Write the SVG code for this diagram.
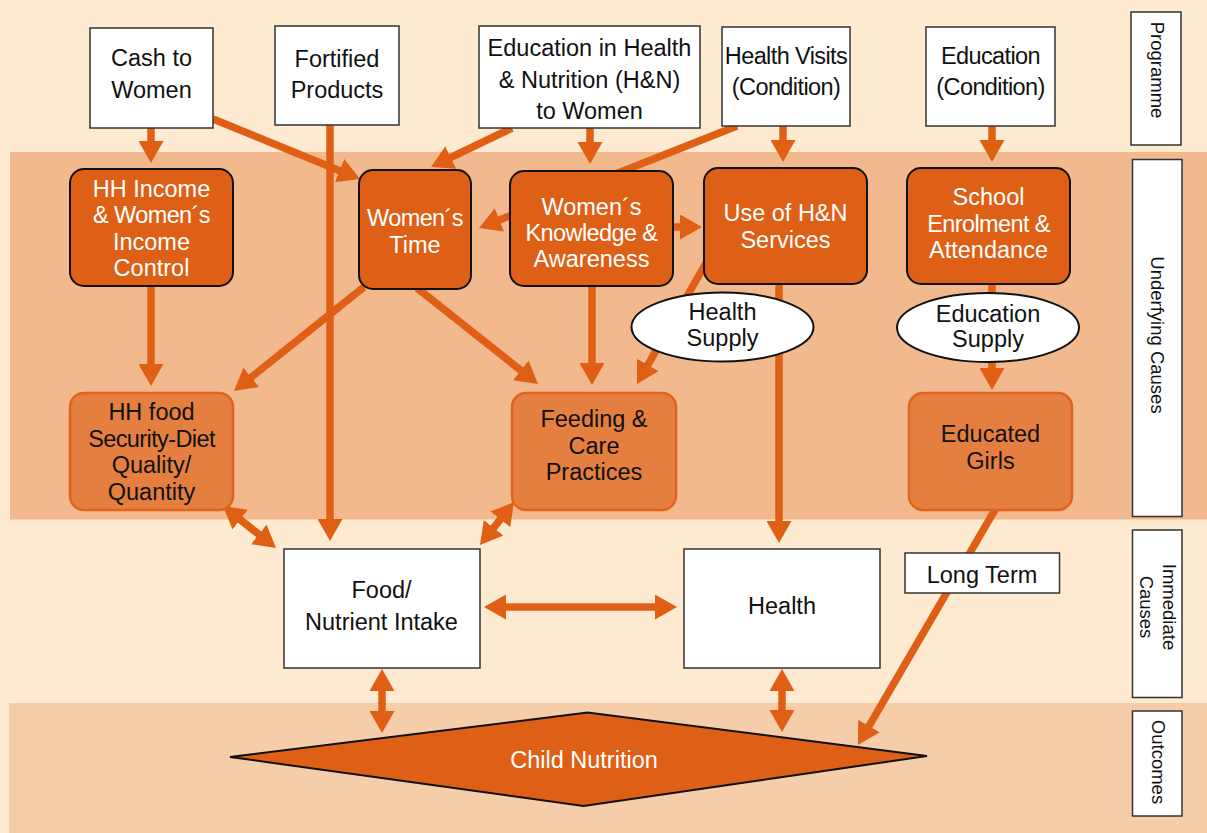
<svg xmlns="http://www.w3.org/2000/svg" width="1207" height="833" viewBox="0 0 1207 833">
<defs>
<marker id="ah" markerUnits="userSpaceOnUse" markerWidth="22" markerHeight="25" refX="12" refY="12.5" orient="auto-start-reverse" viewBox="0 0 22 25"><path d="M0,0 L22,12.5 L0,25 z" fill="#DF6015"/></marker>
<style>
text{font-family:"Liberation Sans",Arial,sans-serif;text-anchor:middle}
.t{font-size:23.5px;fill:#111}
.w{font-size:23.5px;fill:#fff}
.n{letter-spacing:-0.6px}
.s{font-size:18.5px;fill:#111}
.box{fill:#fff;stroke:#333;stroke-width:1.5}
.dk{fill:#DE5F16;stroke:#111;stroke-width:2}
.lt{fill:#E57F40;stroke:#E0651C;stroke-width:2.5}
.el{fill:#fff;stroke:#111;stroke-width:2}
.lab{fill:#fff;stroke:#333;stroke-width:1.5}
.c line{stroke:#DF6015;stroke-width:7.5;fill:none}
.e{marker-end:url(#ah)}
.b{marker-start:url(#ah);marker-end:url(#ah)}
</style>
</defs>
<rect x="0" y="0" width="1207" height="833" fill="#FEEAD1"/>
<rect x="10" y="152" width="1197" height="367.5" fill="#F2B88E"/>
<rect x="9" y="703" width="1198" height="130" fill="#F6CDA9"/>

<g id="labels">
<g id="lab-programme"><rect class="lab" x="1131" y="12" width="50" height="133"/><text class="s" transform="translate(1157,70) rotate(90)" y="6.5">Programme</text></g>
<g id="lab-underlying"><rect class="lab" x="1132.5" y="159.5" width="49.5" height="357"/><text class="s" transform="translate(1157,335) rotate(90)" y="6.5">Underfying Causes</text></g>
<g id="lab-immediate"><rect class="lab" x="1132.5" y="530" width="49.5" height="167.5"/><text class="s" transform="translate(1157.5,607) rotate(90)"><tspan x="0" y="-5">Immediate</tspan><tspan x="0" y="18">Causes</tspan></text></g>
<g id="lab-outcomes"><rect class="lab" x="1132.5" y="711" width="49.5" height="105"/><text class="s" transform="translate(1158,762) rotate(90)" y="6.5">Outcomes</text></g>
</g>

<g id="connectors" class="c">
<line class="e" x1="151" y1="128" x2="151" y2="153"/>
<line class="e" x1="213" y1="119" x2="350.7" y2="175.2"/>
<line class="e" x1="330" y1="125" x2="330" y2="531"/>
<line class="e" x1="512" y1="128" x2="440" y2="162.7"/>
<line class="e" x1="590" y1="128" x2="590" y2="154"/>
<line class="e" x1="737" y1="126" x2="488.3" y2="224.3"/>
<line class="e" x1="673" y1="227" x2="692" y2="227"/>
<line class="e" x1="783" y1="126" x2="783" y2="152"/>
<line class="e" x1="992" y1="126" x2="992" y2="152"/>
<line class="e" x1="151" y1="286" x2="151" y2="376"/>
<line class="e" x1="364" y1="287" x2="241.8" y2="384.8"/>
<line class="e" x1="417" y1="288" x2="530.2" y2="377.8"/>
<line class="e" x1="592" y1="286" x2="592" y2="375"/>
<line class="e" x1="710" y1="256" x2="641.9" y2="375.3"/>
<line class="e" x1="779" y1="284" x2="779" y2="533"/>
<line class="e" x1="992" y1="284" x2="992" y2="380"/>
<line class="e" x1="999.5" y1="502" x2="863" y2="736.4"/>
<line class="b" x1="230.8" y1="512.2" x2="268.2" y2="541.8"/>
<line class="b" x1="507.8" y1="509.9" x2="486.2" y2="537.2"/>
<line class="b" x1="494" y1="607" x2="667" y2="607"/>
<line class="b" x1="382" y1="679" x2="382" y2="723"/>
<line class="b" x1="782" y1="679" x2="782" y2="722"/>
</g>

<g id="n-cash"><rect class="box" x="90" y="28" width="123" height="100"/><text class="t" x="151.5" y="66">Cash to</text><text class="t" x="151.5" y="98">Women</text></g>
<g id="n-fortified"><rect class="box" x="275" y="26" width="124" height="99"/><text class="t" x="337" y="66.5">Fortified</text><text class="t" x="337" y="98">Products</text></g>
<g id="n-education-hn"><rect class="box" x="479" y="26" width="221" height="102"/><text class="t" x="589.5" y="56">Education in Health</text><text class="t" x="589.5" y="87.5">&amp; Nutrition (H&amp;N)</text><text class="t" x="589.5" y="119">to Women</text></g>
<g id="n-health-visits"><rect class="box" x="722" y="27" width="128" height="99"/><text class="t n" x="786" y="64">Health Visits</text><text class="t n" x="786" y="95">(Condition)</text></g>
<g id="n-education-cond"><rect class="box" x="926" y="27" width="129" height="99"/><text class="t n" x="990.5" y="64">Education</text><text class="t n" x="990.5" y="95">(Condition)</text></g>

<g id="n-hh-income"><rect class="dk" x="70" y="169" width="163" height="117" rx="14"/><text class="w" x="151.5" y="196.5">HH Income</text><text class="w n" x="151.5" y="223">&amp; Women´s</text><text class="w" x="151.5" y="249.5">Income</text><text class="w" x="151.5" y="276">Control</text></g>
<g id="n-womens-time"><rect class="dk" x="359" y="170" width="112" height="119" rx="14"/><text class="w n" x="415" y="226">Women´s</text><text class="w" x="415" y="252.5">Time</text></g>
<g id="n-knowledge"><rect class="dk" x="510" y="171" width="163" height="115" rx="14"/><text class="w" x="591.5" y="215">Women´s</text><text class="w n" x="591.5" y="241">Knowledge &amp;</text><text class="w" x="591.5" y="267">Awareness</text></g>
<g id="n-use-hn"><rect class="dk" x="704" y="168" width="163" height="116" rx="14"/><text class="w" x="785.5" y="221">Use of H&amp;N</text><text class="w" x="785.5" y="247.5">Services</text></g>
<g id="n-school"><rect class="dk" x="907" y="168" width="163" height="116" rx="14"/><text class="w" x="988.5" y="205">School</text><text class="w n" x="988.5" y="231.5">Enrolment &amp;</text><text class="w" x="988.5" y="258">Attendance</text></g>

<g id="n-health-supply"><ellipse class="el" cx="722.5" cy="327" rx="91" ry="34.5"/><text class="t" x="722.5" y="319.5">Health</text><text class="t" x="722.5" y="346">Supply</text></g>
<g id="n-education-supply"><ellipse class="el" cx="988" cy="327.5" rx="91" ry="34.5"/><text class="t" x="988" y="321.5">Education</text><text class="t" x="988" y="347">Supply</text></g>

<g id="n-hh-food"><rect class="lt" x="70" y="393" width="163" height="117" rx="14"/><text class="t" x="151.5" y="419.5">HH food</text><text class="t n" x="151.5" y="446.5">Security-Diet</text><text class="t" x="151.5" y="472.5">Quality/</text><text class="t" x="151.5" y="499.5">Quantity</text></g>
<g id="n-feeding"><rect class="lt" x="512" y="393" width="164" height="117" rx="14"/><text class="t" x="594" y="427">Feeding &amp;</text><text class="t" x="594" y="454">Care</text><text class="t" x="594" y="480">Practices</text></g>
<g id="n-educated-girls"><rect class="lt" x="909" y="393" width="163" height="117" rx="14"/><text class="t" x="990.5" y="442">Educated</text><text class="t" x="990.5" y="468.5">Girls</text></g>

<g id="n-food"><rect class="box" x="284" y="549" width="196" height="119"/><text class="t" x="381.5" y="597.5">Food/</text><text class="t" x="381.5" y="629.5">Nutrient Intake</text></g>
<g id="n-health"><rect class="box" x="684" y="549" width="196" height="119"/><text class="t" x="782" y="613.5">Health</text></g>
<g id="n-long-term"><rect class="box" x="905" y="553" width="154.5" height="40"/><text class="t" x="982" y="582.5">Long Term</text></g>

<g id="n-child-nutrition"><polygon class="dk" points="230,757 587.5,712.5 927,756 583.5,806"/><text class="w" x="584" y="767.5">Child Nutrition</text></g>
</svg>
